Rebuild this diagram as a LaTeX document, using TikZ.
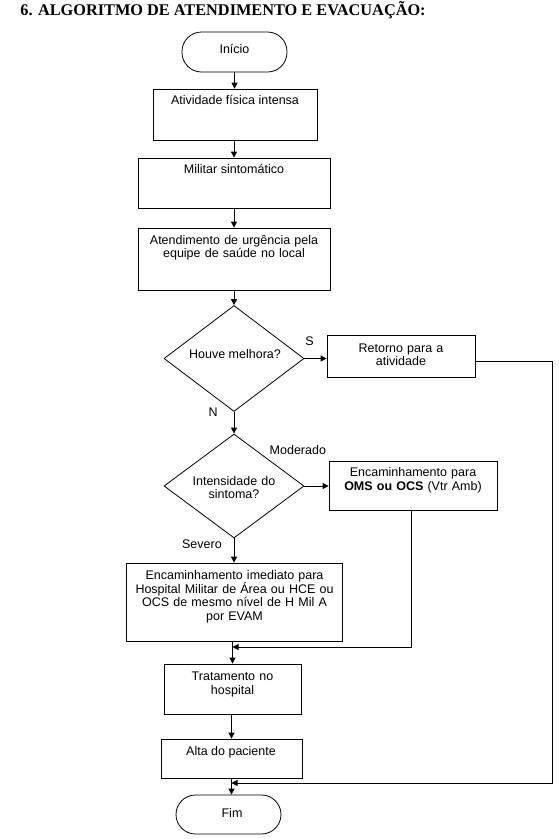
\documentclass[tikz,border=0pt]{standalone}
\usepackage{fontspec}
\setmainfont{Liberation Sans}
\newfontfamily\titlefont{Liberation Serif}
\usetikzlibrary{shapes.geometric,arrows.meta}
\begin{document}
\begin{tikzpicture}[x=1pt,y=-1pt,
  line width=0.8pt,
  box/.style={draw,rectangle,inner sep=0pt},
  term/.style={draw,rectangle,rounded corners=19.5pt,inner sep=0pt,minimum width=105pt,minimum height=40pt},
  dec/.style={draw,diamond,inner sep=0pt,minimum width=140pt,minimum height=105pt},
  txt/.style={inner sep=0pt,align=center,font=\fontsize{12.5}{13.7}\selectfont},
  mtxt/.style={txt,text width=#1},
  arr/.style={-{Triangle[length=6pt,width=6pt]}}
]
\useasboundingbox (0,0) rectangle (558,839);

% title
\node[anchor=base west,inner sep=0pt,font=\titlefont\bfseries\fontsize{16.3}{18}\selectfont] (title) at (20,15.5) {6. ALGORITMO DE ATENDIMENTO E EVACUAÇÃO:};

% shapes
\node[term] (ini) at (234.5,52) {};
\node[box,minimum width=164pt,minimum height=51pt] (b1) at (235,114.5) {};
\node[box,minimum width=192pt,minimum height=50pt] (b2) at (234,183) {};
\node[box,minimum width=192pt,minimum height=62pt] (b3) at (234,259) {};
\node[dec,minimum height=106pt] (d1) at (234,358.5) {};
\node[box,minimum width=148pt,minimum height=42pt] (ret) at (401,356) {};
\node[dec,minimum height=104pt] (d2) at (234,486) {};
\node[box,minimum width=168pt,minimum height=49pt] (enc) at (413,485.5) {};
\node[box,minimum width=216pt,minimum height=78pt] (b4) at (234,602) {};
\node[box,minimum width=137pt,minimum height=50pt] (b5) at (232.5,689) {};
\node[box,minimum width=141pt,minimum height=39pt] (b6) at (231.5,758.5) {};
\node[term,minimum height=39pt] (fim) at (228.5,814.5) {};

% texts
\node[txt,anchor=base] (tini) at (234.5,53.3) {Início};
\node[txt,anchor=base] (t1) at (235,104.5) {Atividade física intensa};
\node[txt,anchor=base] (t2) at (234,173.3) {Militar sintomático};
\node[mtxt=190pt,anchor=base] (t3) at (234,244) {Atendimento de urgência pela\\equipe de saúde no local};
\node[txt,anchor=base] (td1) at (235,358.3) {Houve melhora?};
\node[mtxt=146pt,anchor=base] (tret) at (401,352) {Retorno para a\\atividade};
\node[mtxt=120pt,anchor=base] (td2) at (234,485) {Intensidade do\\sintoma?};
\node[mtxt=166pt,anchor=base] (tenc) at (413,476.5) {Encaminhamento para\\\textbf{OMS ou OCS} (Vtr Amb)};
\node[mtxt=214pt,anchor=base] (t4) at (234.5,579.3) {Encaminhamento imediato para\\Hospital Militar de Área ou HCE ou\\OCS de mesmo nível de H Mil A\\por EVAM};
\node[mtxt=135pt,anchor=base] (t5) at (232.5,680.7) {Tratamento no\\hospital};
\node[txt,anchor=base] (t6) at (231,755.7) {Alta do paciente};
\node[txt,anchor=base] (tfim) at (232,817.3) {Fim};

% labels
\node[txt,anchor=base west] (ls) at (305,345.7) {S};
\node[txt,anchor=base west] (ln) at (208.3,416.7) {N};
\node[txt,anchor=base west] (lm) at (269.3,454.3) {Moderado};
\node[txt,anchor=base west] (lsev) at (181.7,548.3) {Severo};

% junction coordinates
\coordinate (r1) at (552,361);
\coordinate (r2) at (552,783);
\coordinate (j2) at (231.5,783);
\coordinate (e1) at (411,647);
\coordinate (j1) at (232.5,647);

% connectors
\draw[arr] (ini.south) -- (ini.south |- b1.north);
\draw[arr] (b2.north |- b1.south) -- (b2.north);
\draw[arr] (b2.south) -- (b3.north);
\draw[arr] (b3.south) -- (d1.north);
\draw[arr] (d1.east) -- (d1.east -| ret.west);
\draw[arr] (d1.south) -- (d2.north);
\draw[arr] (d2.east) -- (d2.east -| enc.west);
\draw[arr] (d2.south) -- (b4.north);
\draw[arr] (b5.north |- b4.south) -- (b5.north);
\draw[arr] (b6.north |- b5.south) -- (b6.north);
\draw[arr] (b6.south) -- (b6.south |- fim.north);
\draw[arr] (ret.east |- r1) -- (r1) -- (r2) -- (j2);
\draw[arr] (enc.south -| e1) -- (e1) -- (j1);
\end{tikzpicture}
\end{document}
